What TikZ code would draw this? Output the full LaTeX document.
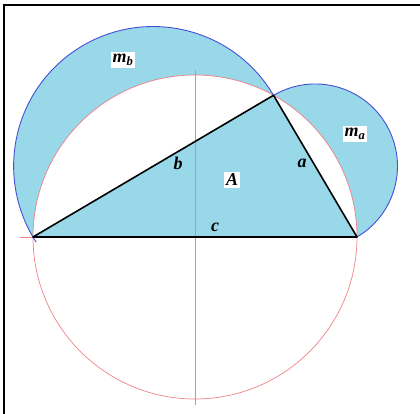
\documentclass[tikz,border=0pt]{standalone}
\usepackage{fontspec}
\setmainfont{Liberation Serif}
\definecolor{lune}{RGB}{152,216,232}
\definecolor{arcblue}{RGB}{70,80,215}
\definecolor{circred}{RGB}{238,130,135}
\begin{document}
\begin{tikzpicture}[x=1pt, y=1pt,
  outer/.style={draw=arcblue, line width=0.9pt},
  helper/.style={draw=circred, line width=0.7pt},
  side/.style={draw=black, line width=1.6pt, line join=round},
  lbl/.style={font=\fontsize{18}{20}\selectfont\bfseries\itshape, inner sep=1pt},
  boxed/.style={lbl, fill=white, inner sep=2pt}
]
  \useasboundingbox (0,0) rectangle (420,414);

  % Cadre
  \coordinate (f1) at (420,409);
  \coordinate (f2) at (4,409);
  \coordinate (f3) at (4,0);
  \draw[line width=2.2pt] (f1) -- (f2) -- (f3);

  % Sommets
  \coordinate (O) at (195,177);
  \coordinate (A) at (33,177);
  \coordinate (B) at (357,177);
  \coordinate (C) at (273.5,318.7);
  \coordinate (top) at (195,344);
  \coordinate (bot) at (195,9);
  \coordinate (left) at (20,177);

  % Triangle et lunules
  \fill[lune] (A) -- (B) -- (C) -- cycle;
  \fill[lune] (A) arc[start angle=180, end angle=61, radius=162pt]
    arc[start angle=30.5, end angle=210.5, radius=139.6pt] -- cycle;
  \fill[lune] (B) arc[start angle=-59.5, end angle=120.5, radius=82.2pt]
    arc[start angle=61, end angle=0, radius=162pt] -- cycle;

  % Cercle circonscrit
  \draw[helper] (O) circle[radius=162pt];
  \draw[helper] (top) -- (bot);
  \draw[helper] (left) -- (B);

  % Demi-cercles
  \draw[outer] (C) arc[start angle=30.5, end angle=213, radius=139.6pt];
  \draw[outer] (B) arc[start angle=-59.5, end angle=120.5, radius=82.2pt];

  % Cotes
  \draw[side] (A) -- (B) -- (C) -- cycle;

  % Etiquettes
  \node[boxed] (mb) at (123,354) {m\textsubscript{b}};
  \node[boxed] (ma) at (355,280) {m\textsubscript{a}};
  \node[boxed] (area) at (232,234) {A};
  \node[lbl] (lb) at (178,251) {b};
  \node[lbl] (la) at (302,251) {a};
  \node[lbl] (lc) at (215,187) {c};
\end{tikzpicture}
\end{document}
